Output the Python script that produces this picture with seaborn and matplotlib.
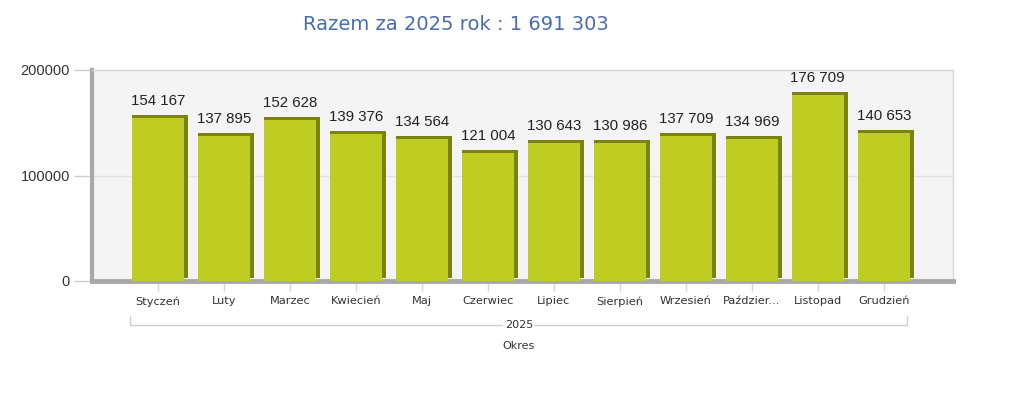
import matplotlib
matplotlib.use("Agg")
import matplotlib.pyplot as plt
import matplotlib.transforms as mtransforms
from matplotlib.patches import Rectangle
import seaborn as sns
import pandas as pd

# dane
months = ["Styczeń", "Luty", "Marzec", "Kwiecień", "Maj", "Czerwiec",
          "Lipiec", "Sierpień", "Wrzesień", "Paździer...", "Listopad", "Grudzień"]
values = [154167, 137895, 152628, 139376, 134564, 121004,
          130643, 130986, 137709, 134969, 176709, 140653]
year = "2025"
total = 1691303


def fmt(v):
    return f"{v:,}".replace(",", " ")


df = pd.DataFrame({"month": months, "value": values})

sns.set_style("white")
plt.rcParams["font.family"] = ["DejaVu Sans"]

fig = plt.figure(figsize=(10.24, 3.94), dpi=100)
ax = fig.add_axes([92 / 1024, 1 - 281 / 394, (953 - 92) / 1024, 211 / 394])

sns.barplot(data=df, x="month", y="value", color="#bfcc22", width=0.79,
            saturation=1, edgecolor="none", ax=ax, zorder=3)

# cień / efekt 3D
for p in list(ax.patches):
    for dx in (0, 2, 4):
        shift = mtransforms.ScaledTranslation(dx / 100, 3 / 100, fig.dpi_scale_trans)
        sh = Rectangle((p.get_x(), 0), p.get_width(), p.get_height(),
                       facecolor="#7b8212", edgecolor="none", zorder=2,
                       transform=ax.transData + shift)
        ax.add_patch(sh)
    ax.text(p.get_x() + p.get_width() / 2, p.get_height(), fmt(int(p.get_height())),
            ha="center", va="bottom", fontsize=10.8, color="#222222",
            family="Liberation Sans",
            transform=ax.transData + mtransforms.ScaledTranslation(0, 10 / 100, fig.dpi_scale_trans))

ax.set_xlim(-1, 12.05)
ax.set_ylim(0, 200000)
ax.set_facecolor("#f4f4f4")
ax.set_yticks([0, 100000, 200000])
ax.set_yticklabels(["0", "100000", "200000"], family="Liberation Sans", fontsize=10.5, color="#333333")
ax.yaxis.grid(True, color="#e2e2e2", linewidth=1, zorder=0)
ax.set_axisbelow(True)
ax.tick_params(axis="y", left=True, length=13, color="#cccccc", width=1, pad=3)
ax.tick_params(axis="x", bottom=True, length=7, color="#d5d5d5", width=1, labelsize=8.2,
               labelcolor="#333333", pad=4, direction="out")
ax.set_xlabel("")
ax.set_ylabel("")

for s in ["top", "right"]:
    ax.spines[s].set_color("#d8d8d8")
    ax.spines[s].set_linewidth(1)
ax.spines["left"].set_color("#a8a8a8")
ax.spines["left"].set_linewidth(3)
ax.spines["bottom"].set_color("#a8a8a8")
ax.spines["bottom"].set_linewidth(3.5)

# grupa "2025" pod osią
trans = mtransforms.blended_transform_factory(ax.transData, ax.transAxes)
x0, x1 = -0.42, 11.36
yb = -0.208
ax.plot([x0, x0, x1, x1], [yb + 0.04, yb, yb, yb + 0.04], color="#d0d0d0",
        linewidth=1, transform=trans, clip_on=False)
xm = (x0 + x1) / 2
ax.text(xm, yb, year, ha="center", va="center", fontsize=8, color="#333333",
        transform=trans, bbox=dict(facecolor="white", edgecolor="none", pad=1))
ax.text(xm, yb - 0.1, "Okres", ha="center", va="center", fontsize=8,
        color="#333333", transform=trans)

fig.text(456 / 1024, 1 - 25 / 394, f"Razem za {year} rok : {fmt(total)}",
         ha="center", va="center", fontsize=14, color="#4a6ab4")

fig.savefig("out.png", dpi=100)
